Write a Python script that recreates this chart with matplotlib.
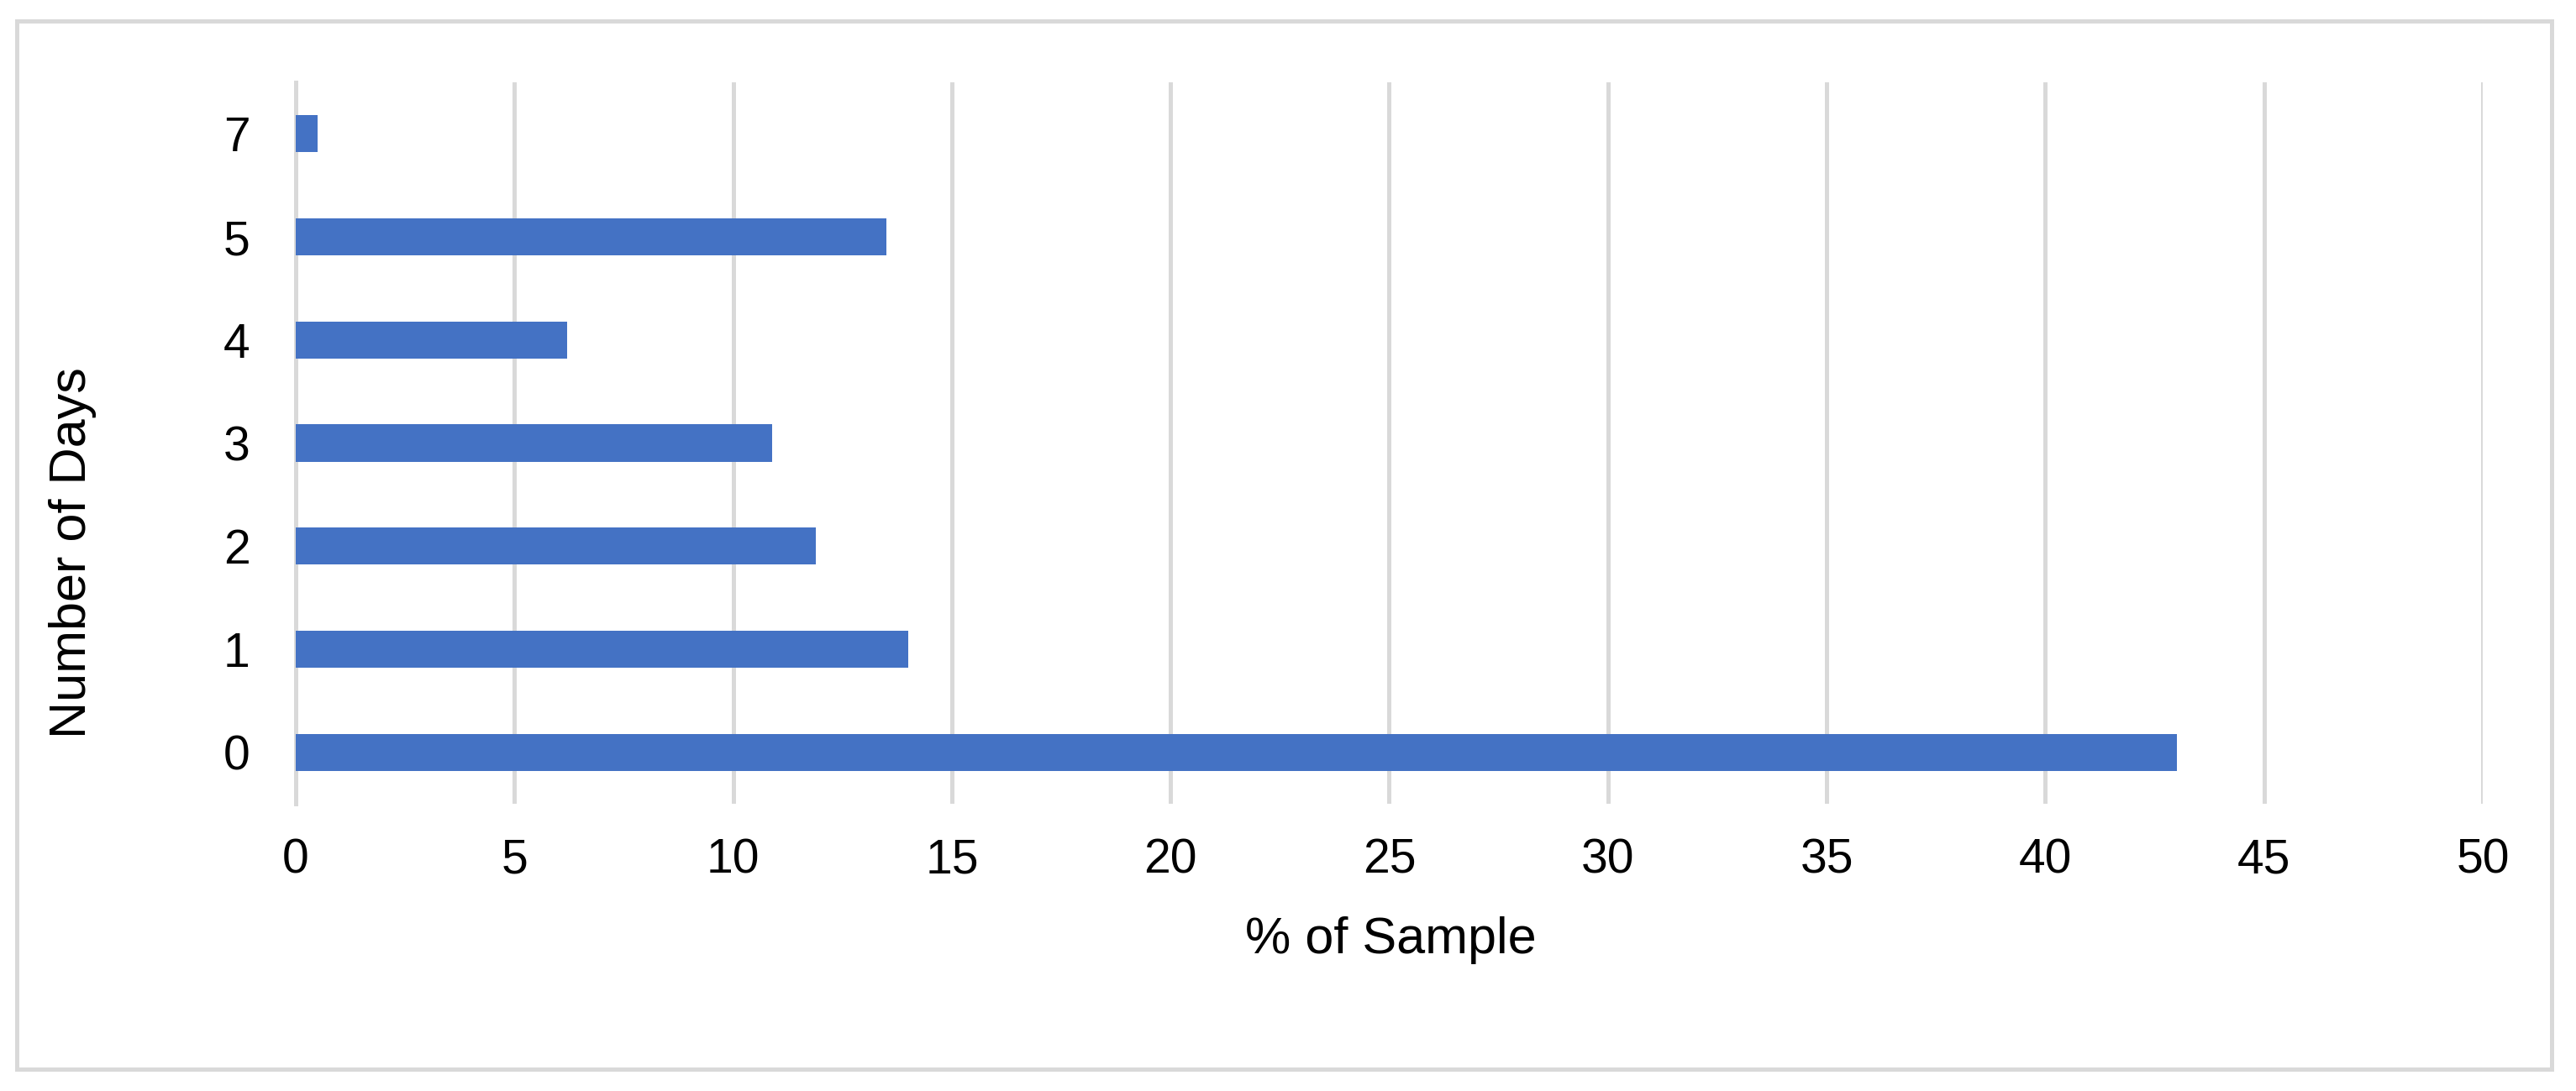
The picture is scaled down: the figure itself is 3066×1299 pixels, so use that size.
import matplotlib
matplotlib.use('Agg')
import matplotlib.pyplot as plt
from matplotlib.patches import Rectangle

plt.rcParams['font.family'] = ['Liberation Sans', 'DejaVu Sans']

days = ['0', '1', '2', '3', '4', '5', '7']
pct_sample = [43.0, 14.0, 11.9, 10.9, 6.2, 13.5, 0.5]
x_ticks = [0, 5, 10, 15, 20, 25, 30, 35, 40, 45, 50]

bar_color = '#4472C4'
grid_color = '#d9d9d9'

fig = plt.figure(figsize=(30.66, 12.99), dpi=100)
ax = fig.add_axes([0.1148, 0.2633, 0.8490, 0.6613])

ax.barh(range(len(days)), pct_sample, height=0.36, color=bar_color, zorder=3)

ax.set_xlim(0, 50)
ax.set_ylim(-0.5, len(days) - 0.5)
ax.set_xticks(x_ticks)
ax.set_xticklabels([str(t) for t in x_ticks])
ax.set_yticks(range(len(days)))
ax.set_yticklabels(days)

ax.tick_params(axis='x', length=0, pad=29, labelsize=41)
ax.tick_params(axis='y', length=0, pad=39, labelsize=41)

ax.grid(axis='x', color=grid_color, linewidth=3.6, zorder=0)
for side in ['top', 'right', 'bottom']:
    ax.spines[side].set_visible(False)
ax.spines['left'].set_color(grid_color)
ax.spines['left'].set_linewidth(3.6)
ax.spines['left'].set_zorder(1)

# axis titles
fig.text(1655 / 3066, 1 - 1119 / 1299, '% of Sample', fontsize=44,
         ha='center', va='center')
fig.text(87 / 3066, 1 - 658 / 1299, 'Number of Days', fontsize=44,
         ha='center', va='center', rotation=90)

# outer chart border
fig.patches.append(Rectangle((20 / 3066, 1 - 1273 / 1299), 3017 / 3066, 1248 / 1299,
                             transform=fig.transFigure, fill=False,
                             edgecolor=grid_color, linewidth=3.6))

fig.savefig('out.png', dpi=100)
